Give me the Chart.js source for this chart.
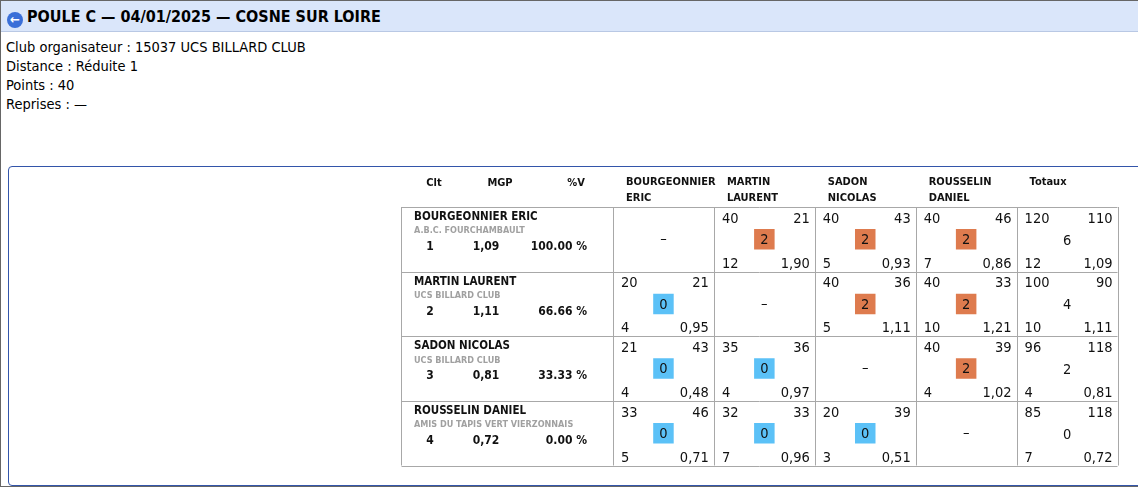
<!DOCTYPE html>
<html>
<head>
<meta charset="utf-8">
<script src="https://cdn.jsdelivr.net/npm/chart.js@4.4.1/dist/chart.umd.min.js"></script>
<style>
  body { margin: 0; width: 1138px; height: 490px; overflow: hidden; background: #fff; font-family: "DejaVu Sans Condensed", "DejaVu Sans", sans-serif; }
  .page { position: absolute; left: 0; top: 0; width: 1150px; height: 487px; border: 1px solid #666; box-sizing: border-box; }
  .bar { height: 30px; background: #dae6fa; border-bottom: 1px solid #b9c8e4; font-weight: bold; font-size: 16px; line-height: 31px; padding-left: 6px; }
  .ico { display: inline-block; width: 16px; height: 16px; border-radius: 50%; background: #3a6fd8; color: #fff; font-size: 13px; line-height: 15px; text-align: center; vertical-align: -2px; margin-right: 4px; }
  .info { padding: 6px 0 0 5px; font-size: 14.5px; line-height: 19px; }
  .card { position: absolute; left: 8px; top: 166px; width: 1140px; height: 320px; border: 1px solid #3355aa; border-radius: 4px; box-sizing: border-box; }
  #wrap { position: absolute; left: 400px; top: 170px; width: 732px; height: 310px; }
</style>
</head>
<body>
<div class="page">
  <div class="bar"><span class="ico">&#x2190;</span>POULE C — 04/01/2025 — COSNE SUR LOIRE</div>
  <div class="info">
    Club organisateur : 15037 UCS BILLARD CLUB<br>
    Distance : Réduite 1<br>
    Points : 40<br>
    Reprises : —
  </div>
</div>
<div class="card"></div>
<div id="wrap"><canvas id="grid"></canvas></div>
<script>
// players / columns
const players = ["BOURGEONNIER ERIC", "MARTIN LAURENT", "SADON NICOLAS", "ROUSSELIN DANIEL"];
const colHeads = [["BOURGEONNIER", "ERIC"], ["MARTIN", "LAURENT"], ["SADON", "NICOLAS"], ["ROUSSELIN", "DANIEL"], ["Totaux"]];
const clubs = ["A.B.C. FOURCHAMBAULT", "UCS BILLARD CLUB", "UCS BILLARD CLUB", "AMIS DU TAPIS VERT VIERZONNAIS"];
const clt = ["1", "2", "3", "4"];
const mgp = ["1,09", "1,11", "0,81", "0,72"];
const pctV = ["100.00 %", "66.66 %", "33.33 %", "0.00 %"];

// match results, row player vs column player
const pts = [[null, 40, 40, 40], [20, null, 40, 40], [21, 35, null, 40], [33, 32, 20, null]];
const oppPts = [[null, 21, 43, 46], [21, null, 36, 33], [43, 36, null, 39], [46, 33, 39, null]];
const matchPts = [[null, 2, 2, 2], [0, null, 2, 2], [0, 0, null, 2], [0, 0, 0, null]];
const reprises = [[null, 12, 5, 7], [4, null, 5, 10], [4, 4, null, 4], [5, 7, 3, null]];
const moy = [[null, "1,90", "0,93", "0,86"], ["0,95", null, "1,11", "1,21"], ["0,48", "0,97", null, "1,02"], ["0,71", "0,96", "0,51", null]];

// totals
const totPts = [120, 100, 96, 85];
const totOpp = [110, 90, 118, 118];
const totMatch = [6, 4, 2, 0];
const totRep = [12, 10, 4, 7];
const totMoy = ["1,09", "1,11", "0,81", "0,72"];

const xLabels = colHeads.map(h => h.join(" "));
const WIN = "#de7b4e", LOSS = "#5bc1f7";

const badges = [];
players.forEach((p, r) => {
  matchPts[r].forEach((v, c) => {
    if (v !== null) badges.push({ x: xLabels[c], y: p, v });
  });
});

const FONT = '"DejaVu Sans Condensed", "DejaVu Sans", sans-serif';

const tablePlugin = {
  id: "table",
  beforeDatasetsDraw(chart) {
    const { ctx, chartArea: a, scales: { x, y } } = chart;
    const bw = x.getPixelForValue(1) - x.getPixelForValue(0);
    const bh = y.getPixelForValue(1) - y.getPixelForValue(0);
    ctx.save();
    ctx.strokeStyle = "#a8a8a8";
    ctx.lineWidth = 1;
    ctx.beginPath();
    for (let r = 0; r <= players.length; r++) {
      const yy = Math.round(a.top + r * bh) + 0.5;
      ctx.moveTo(1.5, yy); ctx.lineTo(a.right, yy);
    }
    ctx.moveTo(1.5, a.top); ctx.lineTo(1.5, a.bottom);
    for (let c = 0; c <= xLabels.length; c++) {
      const xx = Math.round(a.left + c * bw) + 0.5;
      ctx.moveTo(xx, a.top); ctx.lineTo(xx, a.bottom);
    }
    ctx.stroke();

    // headers
    ctx.fillStyle = "#111";
    ctx.font = "bold 11px " + FONT;
    ctx.textBaseline = "middle";
    ctx.textAlign = "center";
    ctx.fillText("Clt", 34, 13); ctx.fillText("MGP", 100, 13); ctx.fillText("%V", 176, 13);
    ctx.textAlign = "left";
    colHeads.forEach((h, c) => {
      h.forEach((t, i) => ctx.fillText(t, a.left + c * bw + 13, 12 + i * 16));
    });

    // rows
    players.forEach((p, r) => {
      const top = a.top + r * bh;
      ctx.fillStyle = "#111";
      ctx.font = "bold 11.5px " + FONT;
      ctx.textAlign = "left";
      ctx.fillText(p, 14, top + 10);
      ctx.fillStyle = "#a0a0a0";
      ctx.font = "bold 9px " + FONT;
      ctx.fillText(clubs[r], 14, top + 24);
      ctx.fillStyle = "#111";
      ctx.font = "bold 12px " + FONT;
      ctx.textAlign = "center";
      ctx.fillText(clt[r], 30, top + 40);
      ctx.fillText(mgp[r], 86, top + 40);
      ctx.textAlign = "right";
      ctx.fillText(pctV[r], 187, top + 40);

      ctx.font = "14.5px " + FONT;
      for (let c = 0; c < xLabels.length; c++) {
        const left = a.left + c * bw;
        const isTot = c === players.length;
        const cells = isTot
          ? [totPts[r], totOpp[r], totRep[r], totMoy[r]]
          : [pts[r][c], oppPts[r][c], reprises[r][c], moy[r][c]];
        if (cells[0] === null) {
          ctx.textAlign = "center";
          ctx.fillText("–", left + bw / 2, top + bh / 2);
          continue;
        }
        ctx.textAlign = "left";
        ctx.fillText(String(cells[0]), left + 8, top + 12);
        ctx.fillText(String(cells[2]), left + 8, top + 57);
        ctx.textAlign = "right";
        ctx.fillText(String(cells[1]), left + bw - 5, top + 12);
        ctx.fillText(String(cells[3]), left + bw - 5, top + 57);
        if (isTot) {
          ctx.textAlign = "center";
          ctx.fillText(String(totMatch[r]), left + bw / 2, top + 34);
        }
      }
    });
    ctx.restore();
  },
  afterDatasetsDraw(chart) {
    const { ctx, scales: { x, y } } = chart;
    ctx.save();
    ctx.fillStyle = "#111";
    ctx.font = "14.5px " + FONT;
    ctx.textAlign = "center";
    ctx.textBaseline = "middle";
    badges.forEach(b => {
      ctx.fillText(String(b.v), x.getPixelForValue(xLabels.indexOf(b.x)), y.getPixelForValue(players.indexOf(b.y)) + 1 - 34 + 34);
    });
    ctx.restore();
  }
};

new Chart(document.getElementById("grid"), {
  type: "scatter",
  data: {
    datasets: [{
      data: badges,
      pointStyle: "rect",
      pointRadius: 14.5,
      pointHoverRadius: 14.5,
      borderWidth: 0,
      backgroundColor: badges.map(b => b.v > 0 ? WIN : LOSS)
    }]
  },
  options: {
    responsive: true,
    maintainAspectRatio: false,
    animation: false,
    events: [],
    layout: { padding: { left: 213, top: 37, right: 2, bottom: 2 } },
    scales: {
      x: { type: "category", labels: xLabels, offset: true, display: false },
      y: { type: "category", labels: players, offset: true, display: false }
    },
    plugins: { legend: { display: false }, tooltip: { enabled: false } }
  },
  plugins: [tablePlugin]
});
</script>
</body>
</html>
